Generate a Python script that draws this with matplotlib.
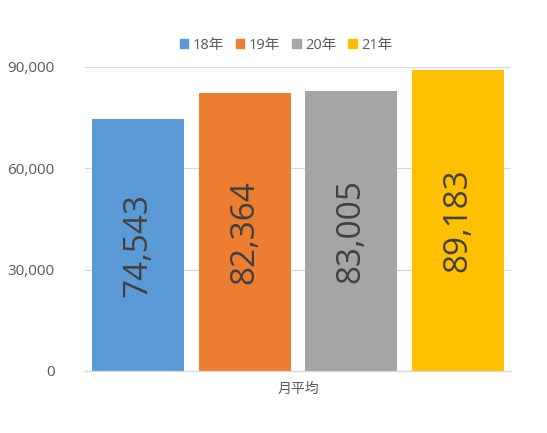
import matplotlib.pyplot as plt
from matplotlib.patches import Patch

# データ
series = ['18年', '19年', '20年', '21年']
values = [74543, 82364, 83005, 89183]
colors = ['#5B9BD5', '#ED7D31', '#A5A5A5', '#FFC000']
category = '月平均'
yticks = [0, 30000, 60000, 90000]

plt.rcParams['font.family'] = ['Open Sans', 'Noto Sans CJK JP', 'DejaVu Sans']

fig = plt.figure(figsize=(5.47, 4.33), dpi=100)
ax = fig.add_axes([85 / 547, 62 / 433, 426 / 547, 304 / 433])

n = len(series)
for i, (name, v, c) in enumerate(zip(series, values, colors)):
    x = (i + 0.5) / n - 0.5
    ax.bar(x, v, width=0.216, color=c, label=name, zorder=2)
    ax.text(x, v / 2, f'{v:,}', rotation=90, ha='center', va='center',
            fontsize=24, color='#404040', zorder=3)

ax.set_xlim(-0.5, 0.5)
ax.set_ylim(0, 90000)
ax.set_yticks(yticks)
ax.set_yticklabels([f'{t:,}' for t in yticks], fontsize=11, color='#595959')
ax.set_xticks([0])
ax.set_xticklabels([category], fontsize=10, color='#595959')
ax.tick_params(length=0, pad=8)
ax.tick_params(axis='y', pad=22)
ax.grid(axis='y', color='#D9D9D9', linewidth=0.9, zorder=0)
for s in ['top', 'right', 'left']:
    ax.spines[s].set_visible(False)
ax.spines['bottom'].set_color('#D9D9D9')
ax.spines['bottom'].set_linewidth(0.9)

handles = [Patch(color=c, label=s) for s, c in zip(series, colors)]
fig.legend(handles=handles, loc='center', bbox_to_anchor=(286 / 547, 1 - 45 / 433),
           ncol=4, frameon=False, fontsize=10.5, handlelength=0.6, handleheight=0.6,
           handletextpad=0.3, columnspacing=0.8, labelcolor='#595959')

fig.savefig('out.png', dpi=100)
